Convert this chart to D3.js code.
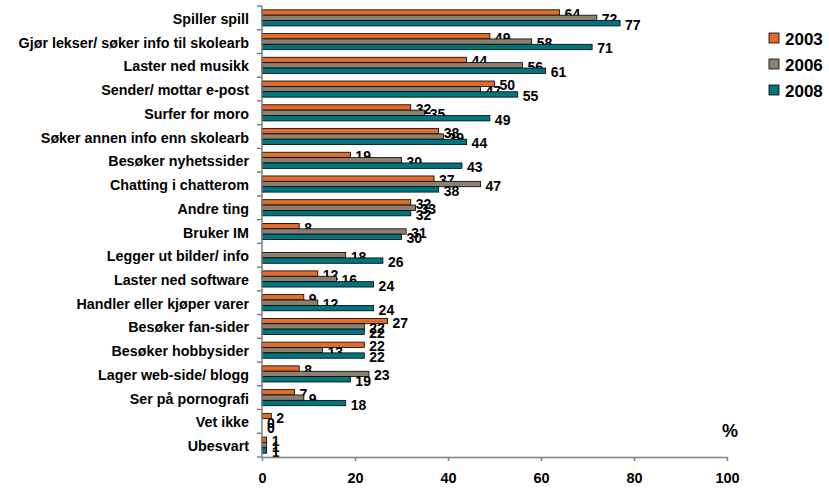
<!DOCTYPE html>
<html lang="no">
<head>
    <meta charset="UTF-8">
    <title>Internettbruk</title>
    <script src="https://d3js.org/d3.v7.min.js"></script>
    <style>
        body { margin: 0; background: #fff; }
        text { font-family: "Liberation Sans", Arial, sans-serif; font-weight: bold; fill: #000; }
    </style>
</head>
<body>
    <div id="chart"></div>
    <script>
        // Data
        const categories = [
            'Spiller spill',
            'Gjør lekser/ søker info til skolearb',
            'Laster ned musikk',
            'Sender/ mottar e-post',
            'Surfer for moro',
            'Søker annen info enn skolearb',
            'Besøker nyhetssider',
            'Chatting i chatterom',
            'Andre ting',
            'Bruker IM',
            'Legger ut bilder/ info',
            'Laster ned software',
            'Handler eller kjøper varer',
            'Besøker fan-sider',
            'Besøker hobbysider',
            'Lager web-side/ blogg',
            'Ser på pornografi',
            'Vet ikke',
            'Ubesvart'
        ];
        const years = ['2003', '2006', '2008'];
        const values2003 = [64, 49, 44, 50, 32, 38, 19, 37, 32, 8, null, 12, 9, 27, 22, 8, 7, 2, 1];
        const values2006 = [72, 58, 56, 47, 35, 39, 30, 47, 33, 31, 18, 16, 12, 22, 13, 23, 9, 0, 1];
        const values2008 = [77, 71, 61, 55, 49, 44, 43, 38, 32, 30, 26, 24, 24, 22, 22, 19, 18, 0, 1];
        const xTicks = [0, 20, 40, 60, 80, 100];
        const colors = ['#e06c2c', '#8b806f', '#00757e'];

        const series = [values2003, values2006, values2008];

        const width = 829, height = 491;
        const svg = d3.select('#chart').append('svg')
            .attr('width', width)
            .attr('height', height);

        const x = d3.scaleLinear().domain([0, 100]).range([262, 727]);
        const y = d3.scaleBand().domain(categories).range([6, 457]).paddingInner(0.32).paddingOuter(0.16);
        const ySub = d3.scaleBand().domain(years).range([0, y.bandwidth()]);

        // bars
        const groups = svg.selectAll('.grp')
            .data(categories)
            .enter().append('g')
            .attr('transform', d => `translate(0,${y(d)})`);

        years.forEach(function (yr, k) {
            const vals = series[k];
            groups.filter((d, i) => vals[i] !== null && vals[i] > 0)
                .append('rect')
                .attr('x', x(0))
                .attr('y', ySub(yr))
                .attr('width', d => x(vals[categories.indexOf(d)]) - x(0))
                .attr('height', ySub.bandwidth())
                .attr('fill', colors[k])
                .attr('stroke', '#000')
                .attr('stroke-width', 0.8);

            groups.filter((d, i) => vals[i] !== null)
                .append('text')
                .attr('x', d => x(vals[categories.indexOf(d)]) + 5)
                .attr('y', ySub(yr) + ySub.bandwidth() / 2 + 1.5)
                .attr('dominant-baseline', 'central')
                .style('font-size', '14px')
                .text(d => vals[categories.indexOf(d)]);
        });

        // y axis
        const yAxis = svg.append('g');
        const y0 = y.range()[0], y1 = y.range()[1];
        yAxis.append('line')
            .attr('x1', x(0)).attr('x2', x(0))
            .attr('y1', y0).attr('y2', y1)
            .attr('stroke', '#7f7f7f').attr('stroke-width', 1.5);
        d3.range(categories.length + 1).forEach(function (i) {
            const yy = y0 + i * (y1 - y0) / categories.length;
            yAxis.append('line')
                .attr('x1', x(0) - 5).attr('x2', x(0))
                .attr('y1', yy).attr('y2', yy)
                .attr('stroke', '#7f7f7f').attr('stroke-width', 1.5);
        });
        svg.selectAll('.cat')
            .data(categories)
            .enter().append('text')
            .attr('x', 249)
            .attr('y', d => y(d) + y.bandwidth() / 2 + 1)
            .attr('dominant-baseline', 'central')
            .attr('text-anchor', 'end')
            .style('font-size', '14.3px')
            .text(d => d);

        // x axis
        const xAxis = svg.append('g')
            .attr('transform', `translate(0,${y1})`)
            .call(d3.axisBottom(x).tickValues(xTicks).tickSize(4).tickPadding(12).tickSizeOuter(0));
        xAxis.select('.domain').attr('stroke', '#7f7f7f').attr('stroke-width', 1.5);
        xAxis.selectAll('.tick line').attr('stroke', '#7f7f7f').attr('stroke-width', 1.5);
        xAxis.selectAll('.tick text')
            .style('font-size', '14.5px')
            .style('font-family', '"Liberation Sans", Arial, sans-serif')
            .attr('fill', '#000');

        svg.append('text')
            .attr('x', 730).attr('y', 431)
            .attr('text-anchor', 'middle')
            .attr('dominant-baseline', 'central')
            .style('font-size', '18px')
            .text('%');

        // legend
        const legend = svg.selectAll('.leg')
            .data(years)
            .enter().append('g')
            .attr('transform', (d, i) => `translate(769,${38 + i * 26})`);
        legend.append('rect')
            .attr('x', 0).attr('y', -5)
            .attr('width', 10).attr('height', 10)
            .attr('fill', (d, i) => colors[i])
            .attr('stroke', '#000').attr('stroke-width', 0.8);
        legend.append('text')
            .attr('x', 16).attr('y', 1)
            .attr('dominant-baseline', 'central')
            .style('font-size', '17px')
            .text(d => d);
    </script>
</body>
</html>
